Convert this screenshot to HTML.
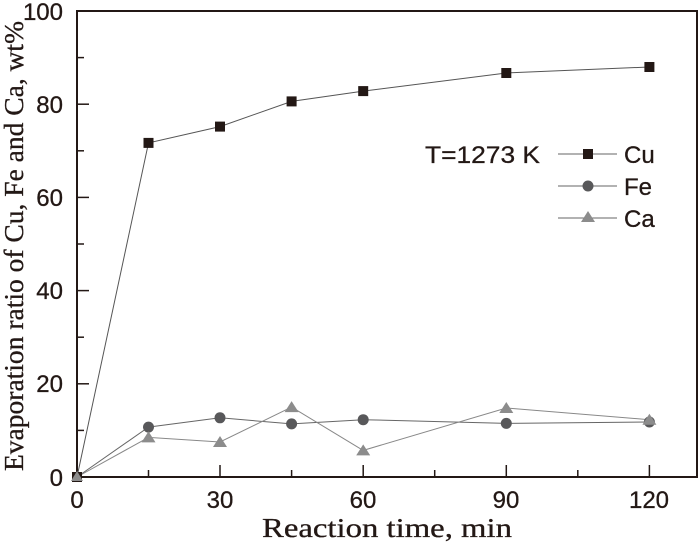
<!DOCTYPE html>
<html><head><meta charset="utf-8"><style>body{margin:0;background:#fff}</style></head><body>
<svg width="700" height="543" xmlns="http://www.w3.org/2000/svg">
<g fill="none" stroke="#231815" stroke-width="2">
<rect x="77" y="11" width="620" height="466"/>
</g>
<g stroke="#231815" stroke-width="1.5">
<line x1="148.5" y1="477" x2="148.5" y2="470"/><line x1="220" y1="477" x2="220" y2="465"/>
<line x1="291.6" y1="477" x2="291.6" y2="470"/><line x1="363.2" y1="477" x2="363.2" y2="465"/>
<line x1="434.7" y1="477" x2="434.7" y2="470"/><line x1="506.3" y1="477" x2="506.3" y2="465"/>
<line x1="577.8" y1="477" x2="577.8" y2="470"/><line x1="649.4" y1="477" x2="649.4" y2="465"/>
<line x1="77" y1="430.4" x2="84" y2="430.4"/><line x1="77" y1="383.8" x2="89" y2="383.8"/>
<line x1="77" y1="337.2" x2="84" y2="337.2"/><line x1="77" y1="290.6" x2="89" y2="290.6"/>
<line x1="77" y1="244" x2="84" y2="244"/><line x1="77" y1="197.4" x2="89" y2="197.4"/>
<line x1="77" y1="150.8" x2="84" y2="150.8"/><line x1="77" y1="104.2" x2="89" y2="104.2"/>
<line x1="77" y1="57.6" x2="84" y2="57.6"/>
</g>
<g font-family="Liberation Sans, sans-serif" font-size="24" fill="#231815" stroke="#231815" stroke-width="0.3" text-anchor="middle">
<text x="77" y="508">0</text><text x="220" y="508">30</text><text x="363" y="508">60</text><text x="506" y="508">90</text><text x="649" y="508">120</text>
</g>
<g font-family="Liberation Sans, sans-serif" font-size="24" fill="#231815" stroke="#231815" stroke-width="0.3" text-anchor="end">
<text x="63" y="486">0</text><text x="63" y="392">20</text><text x="63" y="299">40</text><text x="63" y="206">60</text><text x="63" y="113">80</text><text x="63" y="20">100</text>
</g>
<text x="387" y="537" font-family="Liberation Serif, serif" font-size="27" fill="#231815" stroke="#231815" stroke-width="0.3" text-anchor="middle" textLength="250" lengthAdjust="spacingAndGlyphs">Reaction time, min</text>
<text transform="translate(23,246) rotate(-90)" font-family="Liberation Serif, serif" font-size="27" fill="#231815" stroke="#231815" stroke-width="0.3" text-anchor="middle" textLength="450" lengthAdjust="spacingAndGlyphs">Evaporation ratio of Cu, Fe and Ca, wt%</text>
<polyline fill="none" stroke="#555" stroke-width="1" points="77,477 148.5,142.9 220,126.6 291.6,101.4 363.2,91.1 506.3,73 649.4,67"/>
<polyline fill="none" stroke="#666" stroke-width="1" points="77,477 148.5,427.1 220,417.8 291.6,423.9 363.2,419.7 506.3,423.4 649.4,422"/>
<polyline fill="none" stroke="#888" stroke-width="1" points="77,477 148.5,437.4 220,442 291.6,407.1 363.2,450.4 506.3,408 649.4,419.7"/>
<g fill="#231815">
<rect x="72" y="472" width="10" height="10"/><rect x="143.5" y="137.9" width="10" height="10"/><rect x="215" y="121.6" width="10" height="10"/><rect x="286.6" y="96.4" width="10" height="10"/><rect x="358.2" y="86.1" width="10" height="10"/><rect x="501.3" y="68" width="10" height="10"/><rect x="644.4" y="62" width="10" height="10"/>
</g>
<g fill="#58585a">
<circle cx="148.5" cy="427.1" r="5.5"/><circle cx="220" cy="417.8" r="5.5"/><circle cx="291.6" cy="423.9" r="5.5"/><circle cx="363.2" cy="419.7" r="5.5"/><circle cx="506.3" cy="423.4" r="5.5"/><circle cx="649.4" cy="422" r="5.5"/>
</g>
<g fill="#8c8c8c">
<path d="M77,471 l6,10 h-12z"/>
<path d="M148.5,431.4 l7,11 h-14z"/><path d="M220,436 l7,11 h-14z"/><path d="M291.6,401.1 l7,11 h-14z"/><path d="M363.2,444.4 l7,11 h-14z"/><path d="M506.3,402 l7,11 h-14z"/><path d="M649.4,413.7 l7,11 h-14z"/>
</g>
<g stroke="#666" stroke-width="1">
<line x1="558" y1="154" x2="617" y2="154"/><line x1="558" y1="186" x2="617" y2="186"/><line x1="558" y1="218" x2="617" y2="218"/>
</g>
<rect x="583" y="149" width="10" height="10" fill="#231815"/>
<circle cx="588" cy="186" r="5.5" fill="#58585a"/>
<path d="M588,211 l7,11 h-14z" fill="#8c8c8c"/>
<g font-family="Liberation Sans, sans-serif" font-size="24" fill="#231815" stroke="#231815" stroke-width="0.3">
<text x="425" y="163" textLength="115" lengthAdjust="spacingAndGlyphs">T=1273 K</text><text x="624" y="163">Cu</text><text x="624" y="195">Fe</text><text x="624" y="227">Ca</text>
</g>
</svg>
</body></html>
